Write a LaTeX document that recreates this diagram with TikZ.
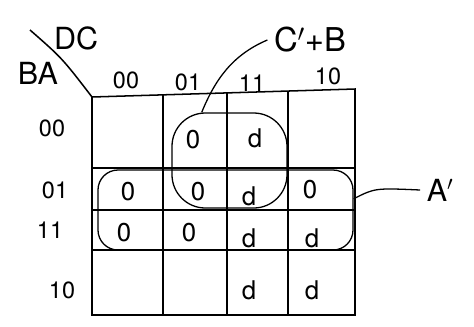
\documentclass[tikz,border=0pt]{standalone}
\usepackage{fontspec}
\setmainfont{TeX Gyre Heros}
\usetikzlibrary{positioning}

\begin{document}
\begin{tikzpicture}[x=0.03cm, y=-0.03cm, line width=1.3pt,
  entry/.style={font=\fontsize{22}{24}\selectfont},
  head/.style={font=\fontsize{20}{22}\selectfont},
  varname/.style={font=\fontsize{26}{28}\selectfont},
  group/.style={draw, line width=1.1pt, inner sep=0pt}]
\useasboundingbox (0,0) rectangle (474,326);
  % Map frame (top edge slightly slanted, as drawn by hand)
  \coordinate (tl) at (92,97);
  \coordinate (tr) at (355,89);
  \draw (tl) -- (tr) -- (355,315) -- (92,315) -- cycle;
  \foreach \x/\t in {163/94.8,227/92.9,288/91.0}
    \draw (\x,\t) -- (\x,315);
  \foreach \y in {168,210,250}
    \draw (92,\y) -- (355,\y);
  % Corner split and variable names
  \coordinate (dtop) at (30,30);
  \draw (dtop) .. controls (62,58) .. (tl);
  \node[varname] (dc) at (76,38) {DC};
  \node[varname] (ba) at (38,73) {BA};
  % Column and row headings
  \foreach \x/\y/\txt [count=\i] in {126/80/00,188/82/01,252/83/11,328/76/10}
    \node[head] (col\i) at (\x,\y) {\txt};
  \foreach \x/\y/\txt [count=\i] in {52/128/00,55/190/01,50/230/11,62/290/10}
    \node[head] (row\i) at (\x,\y) {\txt};
  % Cell entries
  \foreach \x/\y/\v [count=\i] in {193/140/0,255/138/d,
      128/192/0,198/192/0,249/196/d,310/190/0,
      124/233/0,189/233/0,249/238/d,312/238/d,
      249/290/d,312/290/d}
    \node[entry] (e\i) at (\x,\y) {\v};
  % Groupings
  \node[group, rounded corners=1cm, minimum width=3.45cm, minimum height=2.85cm]
    (loopCB) at (229.5,160.5) {};
  \node[group, rounded corners=0.6cm, minimum width=7.65cm, minimum height=2.4cm]
    (loopA) at (225.5,210) {};
  % Group names with leaders
  \node[varname, inner sep=5pt, font=\fontsize{28}{30}\selectfont] (cbl) at (310,40) {C$^{\prime}$+B};
  \node[varname, inner sep=5pt] (al) at (440,190) {A$^{\prime}$};
  \draw[line width=1.1pt] (loopCB.120) .. controls (215,80) and (232,55) .. (cbl.west);
  \draw[line width=1.1pt] (loopA.5) .. controls (375,188) .. (al.west);
\end{tikzpicture}
\end{document}
